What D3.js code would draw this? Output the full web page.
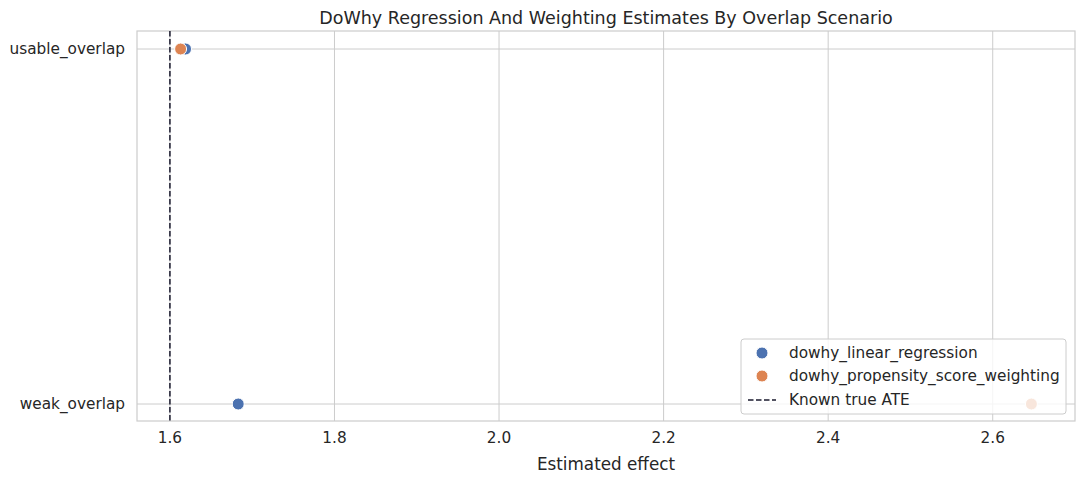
<!DOCTYPE html>
<html><head><meta charset="utf-8">
<script src="https://cdn.jsdelivr.net/npm/d3@7"></script>
<style>body{margin:0;background:#fff;font-family:"DejaVu Sans",sans-serif}</style>
</head><body><svg id="c" width="1084" height="484"></svg>
<script>
const scenarios = ["usable_overlap","weak_overlap"];
const methods = ["dowhy_linear_regression","dowhy_propensity_score_weighting"];
const colors = ["#4c72b0","#dd8452"];
const linearValues = [1.619, 1.683];
const pswValues = [1.613, 2.647];
const trueATE = 1.6;
const xTicks = [1.6,1.8,2.0,2.2,2.4,2.6];

const svg = d3.select("#c");
const L=137,R=1075,T=31,B=421;
const x = d3.scaleLinear().domain([1.56,2.7]).range([L,R]);
const y = d3.scalePoint().domain(scenarios).range([49,404]);
const txt="#262626";

svg.append("g").selectAll("line").data(xTicks).join("line")
 .attr("x1",d=>x(d)).attr("x2",d=>x(d)).attr("y1",T).attr("y2",B).attr("stroke","#cccccc");
svg.append("g").selectAll("line").data(scenarios).join("line")
 .attr("x1",L).attr("x2",R).attr("y1",d=>y(d)).attr("y2",d=>y(d)).attr("stroke","#cccccc");
svg.append("rect").attr("x",L).attr("y",T).attr("width",R-L).attr("height",B-T)
 .attr("fill","none").attr("stroke","#cccccc").attr("stroke-width",1.2);

svg.append("g").selectAll("text").data(xTicks).join("text")
 .attr("x",d=>x(d)).attr("y",B+22).attr("text-anchor","middle").attr("font-size",15.3).attr("fill",txt)
 .text(d=>d.toFixed(1));
svg.append("g").selectAll("text").data(scenarios).join("text")
 .attr("x",L-12).attr("y",d=>y(d)+5).attr("text-anchor","end").attr("font-size",15.3).attr("fill",txt).text(d=>d);
svg.append("text").attr("x",(L+R)/2).attr("y",470).attr("text-anchor","middle").attr("font-size",16.8).attr("fill",txt).text("Estimated effect");
svg.append("text").attr("x",(L+R)/2).attr("y",24).attr("text-anchor","middle").attr("font-size",17.5).attr("fill",txt).text("DoWhy Regression And Weighting Estimates By Overlap Scenario");

svg.append("line").attr("x1",x(trueATE)).attr("x2",x(trueATE)).attr("y1",T).attr("y2",B)
 .attr("stroke","#1a1a2e").attr("stroke-width",1.5).attr("stroke-dasharray","5.5,2.5");

[linearValues,pswValues].forEach((vals,i)=>{
 svg.append("g").selectAll("circle").data(scenarios).join("circle")
  .attr("cx",(d,j)=>x(vals[j])).attr("cy",d=>y(d)).attr("r",6)
  .attr("fill",colors[i]).attr("stroke","#fff").attr("stroke-width",1);
});

const lg=svg.append("g");
lg.append("rect").attr("x",741).attr("y",339).attr("width",325).attr("height",75).attr("rx",3)
 .attr("fill","#fff").attr("fill-opacity",0.8).attr("stroke","#cccccc");
methods.forEach((m,i)=>{
 const yy=353+i*23;
 lg.append("circle").attr("cx",762).attr("cy",yy).attr("r",6).attr("fill",colors[i]).attr("stroke","#fff");
 lg.append("text").attr("x",789).attr("y",yy+5).attr("font-size",15.3).attr("fill",txt).text(m);
});
lg.append("line").attr("x1",748).attr("x2",776).attr("y1",400).attr("y2",400).attr("stroke","#1a1a2e").attr("stroke-width",1.5).attr("stroke-dasharray","5.5,2.5");
lg.append("text").attr("x",789).attr("y",405).attr("font-size",15.3).attr("fill",txt).text("Known true ATE");
</script></body></html>
